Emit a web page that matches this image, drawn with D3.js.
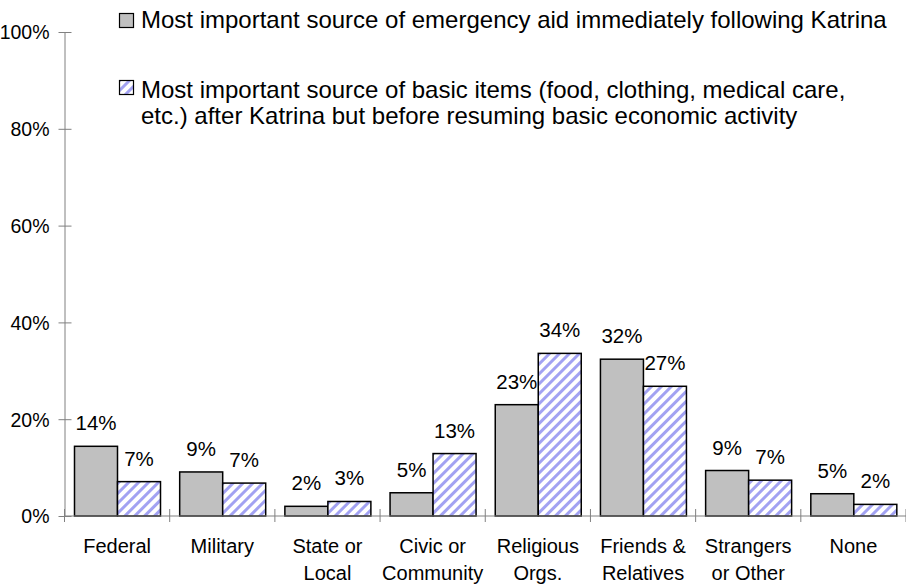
<!DOCTYPE html>
<html>
<head>
<meta charset="utf-8">
<script src="https://cdn.jsdelivr.net/npm/d3@7"></script>
<style>
  body { margin: 0; background: #fff; }
  svg { display: block; font-family: "Liberation Sans", Arial, Helvetica, sans-serif; }
</style>
</head>
<body>
<svg id="chart" width="906" height="584"></svg>
<script>
// categories, two lines each
const categories = [
    ['Federal'],
    ['Military'],
    ['State or', 'Local'],
    ['Civic or', 'Community'],
    ['Religious', 'Orgs.'],
    ['Friends &', 'Relatives'],
    ['Strangers', 'or Other'],
    ['None']
];
const legendLines = [
    ['Most important source of emergency aid immediately following Katrina'],
    ['Most important source of basic items (food, clothing, medical care,', 'etc.) after Katrina but before resuming basic economic activity']
];
const emergencyAid = [0.144, 0.091, 0.020, 0.048, 0.230, 0.324, 0.094, 0.046];
const basicItems = [0.071, 0.068, 0.030, 0.129, 0.336, 0.268, 0.074, 0.024];
const yTicks = [0, 0.2, 0.4, 0.6, 0.8, 1.0];

const svg = d3.select('#chart');
const left = 64.5, right = 906, zeroY = 516, topY = 32;
const axisColor = '#808080';

const x0 = d3.scaleBand()
    .domain(d3.range(categories.length))
    .range([left, right]);
const x1 = d3.scaleBand()
    .domain([0, 1])
    .range([10, 96]);
const y = d3.scaleLinear().domain([0, 1]).range([zeroY, topY]);
const pct = d3.format('.0%');

// striped fill
const defs = svg.append('defs');
const pat = defs.append('pattern')
    .attr('id', 'stripes')
    .attr('patternUnits', 'userSpaceOnUse')
    .attr('width', 7)
    .attr('height', 7)
    .attr('patternTransform', 'rotate(45)');
pat.append('rect').attr('width', 7).attr('height', 7).attr('fill', '#fff');
pat.append('rect').attr('width', 3).attr('height', 7).attr('fill', '#a2a2f2');

// y axis
const yAxis = svg.append('g')
    .attr('transform', `translate(${left},0)`)
    .call(d3.axisLeft(y).tickValues(yTicks).tickFormat(pct).tickSizeOuter(0));
yAxis.select('.domain').attr('stroke', axisColor);
yAxis.selectAll('.tick line').attr('x1', -6).attr('x2', 7).attr('stroke', axisColor);
yAxis.selectAll('.tick text')
    .attr('x', -15)
    .attr('dy', '0.35em')
    .attr('fill', '#000')
    .style('font-size', '19.5px')
    .style('font-family', '"Liberation Sans", Arial, sans-serif');

// bars
const rows = categories.map((c, i) => [emergencyAid[i], basicItems[i]]);
const groups = svg.append('g')
    .selectAll('g')
    .data(rows)
    .enter().append('g')
    .attr('transform', (d, i) => `translate(${x0(i)},0)`);

groups.selectAll('rect')
    .data(d => d)
    .enter().append('rect')
    .attr('x', (d, j) => x1(j))
    .attr('y', d => y(d))
    .attr('width', x1.bandwidth())
    .attr('height', d => zeroY - y(d))
    .attr('fill', (d, j) => j === 0 ? '#c0c0c0' : 'url(#stripes)')
    .attr('stroke', '#000')
    .attr('stroke-width', 1.5);

groups.selectAll('text')
    .data(d => d)
    .enter().append('text')
    .attr('x', (d, j) => x1(j) + x1.bandwidth() / 2)
    .attr('y', d => y(d) - 16)
    .attr('text-anchor', 'middle')
    .style('font-size', '20.5px')
    .text(d => pct(d));

// x axis line + category boundary ticks
svg.append('line')
    .attr('x1', left).attr('x2', right)
    .attr('y1', zeroY).attr('y2', zeroY)
    .attr('stroke', axisColor);
svg.append('g')
    .selectAll('line')
    .data(d3.range(categories.length + 1))
    .enter().append('line')
    .attr('x1', i => i < categories.length ? x0(i) : right)
    .attr('x2', i => i < categories.length ? x0(i) : right)
    .attr('y1', zeroY - 7).attr('y2', zeroY + 6)
    .attr('stroke', axisColor);

// category labels
const catLabels = svg.append('g')
    .selectAll('text')
    .data(categories)
    .enter().append('text')
    .attr('text-anchor', 'middle')
    .style('font-size', '20px')
    .attr('transform', (d, i) => `translate(${x0(i) + x0.bandwidth() / 2},553)`);
catLabels.selectAll('tspan')
    .data(d => d)
    .enter().append('tspan')
    .attr('x', 0)
    .attr('y', (d, k) => k * 27)
    .text(d => d);

// legend
const legend = svg.append('g');
const legendBoxY = [13.5, 80.5];
const legendBaseY = [28, 97.5];
legendLines.forEach((lines, i) => {
    legend.append('rect')
        .attr('x', 119.5).attr('y', legendBoxY[i])
        .attr('width', 14).attr('height', 14)
        .attr('fill', i === 0 ? '#c0c0c0' : 'url(#stripes)')
        .attr('stroke', '#000')
        .attr('stroke-width', 1.2);
    legend.append('text')
        .attr('y', legendBaseY[i])
        .style('font-size', '24px')
        .selectAll('tspan')
        .data(lines)
        .enter().append('tspan')
        .attr('x', 141)
        .attr('dy', (d, k) => k === 0 ? 0 : 26.5)
        .text(d => d);
});
</script>
</body>
</html>
